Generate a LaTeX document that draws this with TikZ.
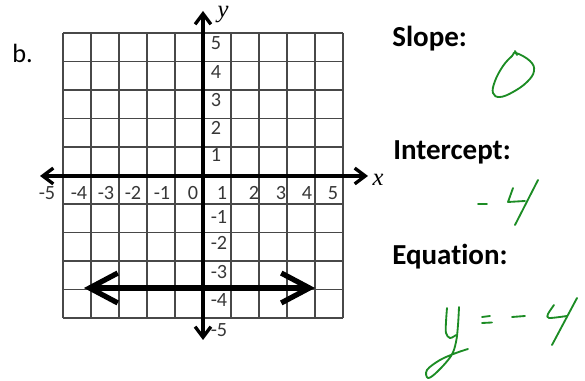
\documentclass[tikz,border=0pt]{standalone}
\usepackage{fontspec}
\setmainfont[Ligatures={NoCommon}]{Carlito}
\newfontfamily\axisfont{Liberation Serif}
\usepackage{xcolor}
\usetikzlibrary{arrows.meta}

\definecolor{inkgreen}{RGB}{28,140,36}
\definecolor{gridgray}{RGB}{72,72,72}
\definecolor{lblgray}{RGB}{55,55,55}

\begin{document}
\begin{tikzpicture}[
  x=0.02cm, y=-0.02cm,
  gridline/.style={draw=gridgray, line width=0.95pt},
  axis/.style={draw=black, line width=1.9pt,
               {Straight Barb[length=6pt,width=9pt]}-{Straight Barb[length=6pt,width=9pt]}},
  graphline/.style={draw=black, line width=3pt, line cap=round, line join=round,
               {Straight Barb[length=16pt,width=17pt]}-{Straight Barb[length=16pt,width=17pt]}},
  tick/.style={text=lblgray, font=\fontsize{11.5}{12}\selectfont, inner sep=0pt},
  head/.style={font=\fontsize{16.5}{18}\selectfont\bfseries, anchor=base west, inner sep=0pt},
  axlbl/.style={font=\fontsize{14}{15}\selectfont\axisfont\itshape, inner sep=0pt},
  ink/.style={draw=inkgreen, line width=1.05pt, line cap=round, line join=round},
]
\useasboundingbox (0,0) rectangle (585,381);

%% ─── Grid ────────────────────────────────────────────────────────────────────
\foreach \i in {0,...,10} {
  \draw[gridline] (63+28*\i,33) -- (63+28*\i,318);
  \draw[gridline] (63,33+28.5*\i) -- (343,33+28.5*\i);
}

%% ─── Axes ────────────────────────────────────────────────────────────────────
\coordinate (xl) at (40,176);
\coordinate (xr) at (368,176);
\coordinate (yt) at (203,11);
\coordinate (yb) at (203,340);
\draw[axis] (xl) -- (xr);
\draw[axis] (yb) -- (yt);
\node[axlbl] (xname) at (378,180) {x};
\node[axlbl] (yname) at (223,15) {y};

%% tick labels
\foreach \lab/\px in {-5/47,-4/79,-3/106,-2/133,-1/162,0/193,1/222,2/254,3/281,4/307,5/333}
  \node[tick] (xt\lab) at (\px,193) {\lab};
\foreach \lab/\py in {5/43,4/72,3/100,2/128,1/155}
  \node[tick] (yt\lab) at (216,\py) {\lab};
\foreach \lab/\py in {-1/217,-2/243,-3/272,-4/300,-5/330}
  \node[tick] (yt\lab) at (219,\py) {\lab};

%% ─── The line y = -4 ─────────────────────────────────────────────────────────
\coordinate (gl) at (84,288);
\coordinate (gr) at (315,288);
\draw[graphline] (gl) -- (gr);

%% ─── Text ────────────────────────────────────────────────────────────────────
\node[anchor=base west, inner sep=0pt, font=\fontsize{15}{16}\selectfont] (part) at (12,63) {b.};
\node[head] (slope) at (392,47)  {Slope:};
\node[head] (icpt)  at (393,160) {Intercept:};
\node[head] (eqn)   at (392,265) {Equation:};

%% ─── Handwritten answers ─────────────────────────────────────────────────────
%% 0
\draw[ink] plot[smooth cycle, tension=0.7] coordinates
  {(516,53) (530,61) (534,71) (527,82) (513,92) (500,97) (493,93) (495,81) (503,66) (512,56)};
\draw[ink] (515,51) -- (517,55);
%% -4
\draw[ink] (478,204) -- (487,204);
\draw[ink] (513,188) -- (508,202) -- (525,201);
\draw[ink] (538,180) -- (515,225);
%% y = -4
\draw[ink] plot[smooth, tension=0.6] coordinates
  {(447,308) (446,322) (446,333) (450,338) (456,335)};
\draw[ink] plot[smooth, tension=0.6] coordinates
  {(459,307) (458,325) (456,342) (451,356) (437,372) (428,378) (427,370) (440,360) (456,353) (468,349)};
\draw[ink] (482,317) -- (490,316);
\draw[ink] (482,323) -- (492,322.5);
\draw[ink] (512,317) -- (525,316);
\draw[ink] plot[smooth, tension=0.5] coordinates {(554,305) (548,314) (549,318) (567,316)};
\draw[ink] (577,298) -- (552,345);

\end{tikzpicture}
\end{document}
